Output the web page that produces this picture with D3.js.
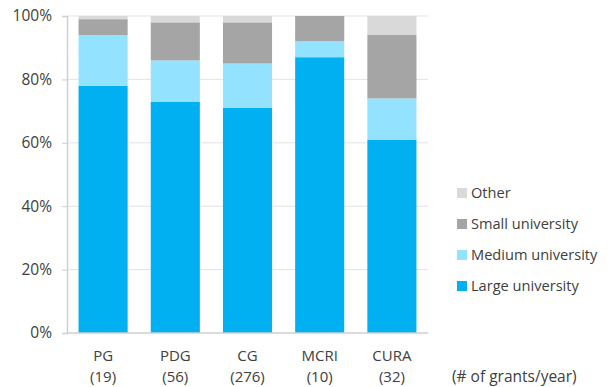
<!DOCTYPE html>
<html>
<head>
<meta charset="utf-8">
<script src="https://cdn.jsdelivr.net/npm/d3@7"></script>
<style>
  body { margin: 0; background: #fff; }
  svg text { font-family: "Open Sans", "Liberation Sans", sans-serif; fill: #404040; }
</style>
</head>
<body>
<div id="chart"></div>
<script>
var programs = ['PG', 'PDG', 'CG', 'MCRI', 'CURA'];
var grantCounts = ['(19)', '(56)', '(276)', '(10)', '(32)'];
var seriesNames = ['Large university', 'Medium university', 'Small university', 'Other'];
var large = [78, 73, 71, 87, 61];
var medium = [16, 13, 14, 5, 13];
var small = [5, 12, 13, 8, 20];
var other = [1, 2, 2, 0, 6];
var yTicks = [0, 0.2, 0.4, 0.6, 0.8, 1];

var colors = ['#00B0F0', '#93E2FF', '#A5A5A5', '#D9D9D9'];

var w = 612, h = 387;
var margin = { top: 16, left: 67, right: 184, bottom: 54 };

var svg = d3.select('#chart').append('svg')
    .attr('width', w)
    .attr('height', h);

// build rows for the stack
var rows = programs.map(function (p, i) {
    return { program: p, s0: large[i], s1: medium[i], s2: small[i], s3: other[i] };
});
var stack = d3.stack().keys(['s0', 's1', 's2', 's3'])
    .offset(d3.stackOffsetExpand);
var layers = stack(rows);

var x = d3.scaleBand()
    .domain(programs)
    .range([margin.left, w - margin.right])
    .paddingInner(0.32)
    .paddingOuter(0.16);

var y = d3.scaleLinear()
    .domain([0, 1])
    .range([h - margin.bottom, margin.top]);

// gridlines
svg.append('g')
    .selectAll('line')
    .data(yTicks.slice(1))
    .enter().append('line')
    .attr('x1', margin.left)
    .attr('x2', w - margin.right)
    .attr('y1', function (d) { return y(d); })
    .attr('y2', function (d) { return y(d); })
    .attr('stroke', '#e3e3e3')
    .attr('stroke-width', 1);

// bars
svg.append('g')
    .selectAll('g')
    .data(layers)
    .enter().append('g')
    .attr('fill', function (d, i) { return colors[i]; })
    .selectAll('rect')
    .data(function (d) { return d; })
    .enter().append('rect')
    .attr('x', function (d) { return x(d.data.program); })
    .attr('width', x.bandwidth())
    .attr('y', function (d) { return y(d[1]); })
    .attr('height', function (d) { return y(d[0]) - y(d[1]); });

// y axis
var yAxis = svg.append('g')
    .attr('transform', 'translate(' + margin.left + ',0)')
    .call(d3.axisLeft(y).tickValues(yTicks).tickFormat(d3.format('.0%')).tickSizeOuter(0).tickSize(5).tickPadding(10));
yAxis.select('.domain').attr('stroke', '#cfcfcf').attr('stroke-width', 1.5);
yAxis.selectAll('.tick line').attr('stroke', '#cfcfcf');
yAxis.selectAll('text').style('font-size', '15.5px').attr('fill', '#404040');

// baseline
svg.append('line')
    .attr('x1', margin.left)
    .attr('x2', w - margin.right)
    .attr('y1', y(0))
    .attr('y2', y(0))
    .attr('stroke', '#cfcfcf')
    .attr('stroke-width', 1.5);

// x labels
var xl = svg.append('g');
programs.forEach(function (p, i) {
    var cx = x(p) + x.bandwidth() / 2;
    xl.append('text')
        .attr('x', cx).attr('y', y(0) + 28)
        .attr('text-anchor', 'middle')
        .style('font-size', '15px')
        .text(p);
    xl.append('text')
        .attr('x', cx).attr('y', y(0) + 49)
        .attr('text-anchor', 'middle')
        .style('font-size', '15px')
        .text(grantCounts[i]);
});

svg.append('text')
    .attr('x', 452).attr('y', y(0) + 49)
    .style('font-size', '15.5px')
    .text('(# of grants/year)');

// legend, reversed order
var legend = svg.append('g')
    .selectAll('g')
    .data(seriesNames.slice().reverse())
    .enter().append('g')
    .attr('transform', function (d, i) { return 'translate(457,' + (193 + i * 31) + ')'; });

legend.append('rect')
    .attr('x', 0).attr('y', -5)
    .attr('width', 10).attr('height', 10)
    .attr('fill', function (d, i) { return colors[3 - i]; });

legend.append('text')
    .attr('x', 14).attr('y', 0)
    .attr('dy', '0.35em')
    .style('font-size', '14.6px')
    .text(function (d) { return d; });
</script>
</body>
</html>
